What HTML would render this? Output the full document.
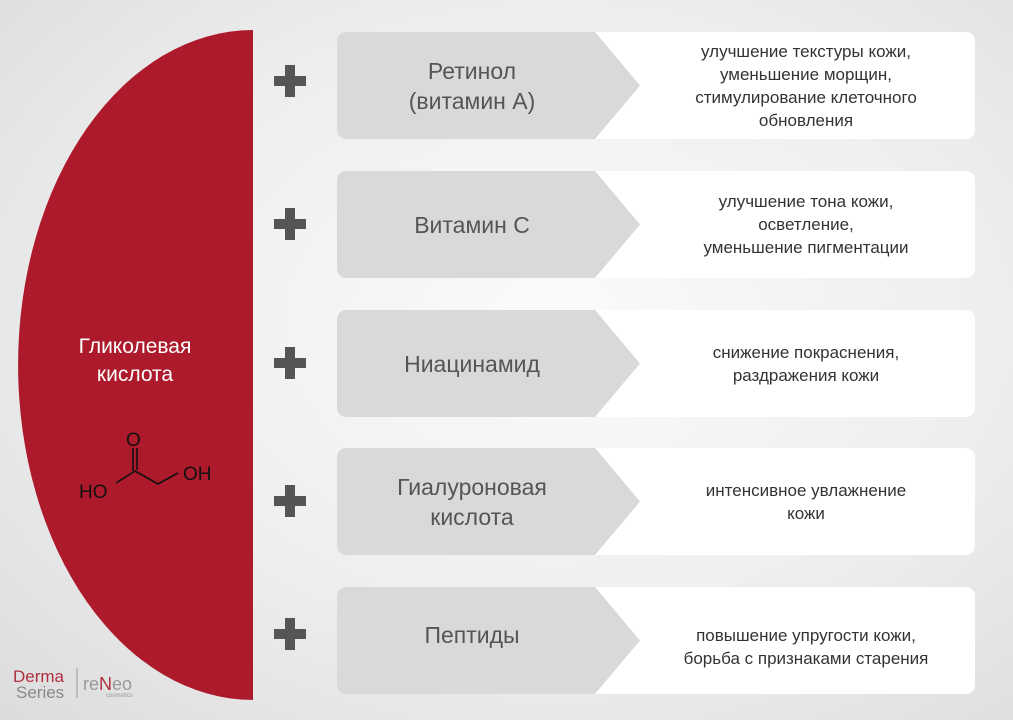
<!DOCTYPE html>
<html><head><meta charset="utf-8"><style>
body{margin:0;width:1013px;height:720px;overflow:hidden;font-family:"Liberation Sans",sans-serif;
background:radial-gradient(ellipse at 55% 45%,#fbfbfb 0%,#eeeeee 55%,#dcdcdc 100%);position:relative}
.row{position:absolute;left:337px;width:638px;height:107px;background:#fff;border-radius:9px;overflow:hidden}
.row svg{position:absolute;left:0;top:0}
.name{position:absolute;left:0;width:270px;top:0;height:107px;display:flex;align-items:center;justify-content:center;text-align:center;font-size:23px;color:#555;line-height:30px}
.desc{position:absolute;left:300px;right:0;top:0;height:107px;display:flex;align-items:center;justify-content:center;text-align:center;font-size:17px;color:#333;line-height:23px}
.plus{position:absolute;left:274px;width:32px;height:32px}
.plus:before{content:"";position:absolute;left:11px;top:0;width:10px;height:32px;background:#555}
.plus:after{content:"";position:absolute;left:0;top:11px;width:32px;height:10px;background:#555}
</style></head><body>
<svg width="1013" height="720" style="position:absolute;left:0;top:0">
<path d="M253 30 A235 335 0 0 0 253 700 Z" fill="#ad1a2c"/>
<g stroke="#111" stroke-width="1.6" fill="none">
<line x1="116" y1="483" x2="135" y2="471"/><line x1="135" y1="471" x2="158" y2="484"/><line x1="158" y1="484" x2="178" y2="473"/>
<line x1="133" y1="448" x2="133" y2="471"/><line x1="137" y1="448" x2="137" y2="470"/>
</g>
<g font-family="Liberation Sans" font-size="19" fill="#111">
<text x="126" y="446">O</text><text x="79" y="498">HO</text><text x="183" y="480">OH</text>
</g>
<text x="13" y="682" font-family="Liberation Sans" font-size="17" fill="#b0303f">Derma</text>
<text x="16" y="698" font-family="Liberation Sans" font-size="17" fill="#888">Series</text>
<line x1="77" y1="668" x2="77" y2="698" stroke="#999"/>
<text x="83" y="690" font-family="Liberation Sans" font-size="18" fill="#999">re<tspan fill="#b0303f">N</tspan>eo</text>
<text x="106" y="697" font-family="Liberation Sans" font-size="6" fill="#999">cosmetics</text>
</svg>
<div style="position:absolute;left:60px;top:333px;width:150px;text-align:center;color:#fff;font-size:21px;line-height:28px">Гликолевая<br>кислота</div>

<div class="plus" style="top:65px"></div>
<div class="row" style="top:32px"><svg width="320" height="107"><path d="M0 0H258L303 53.5L258 107H0Z" fill="#d9d9d9"/></svg><div class="name">Ретинол<br>(витамин А)</div><div class="desc">улучшение текстуры кожи,<br>уменьшение морщин,<br>стимулирование клеточного<br>обновления</div></div>

<div class="plus" style="top:208px"></div>
<div class="row" style="top:171px"><svg width="320" height="107"><path d="M0 0H258L303 53.5L258 107H0Z" fill="#d9d9d9"/></svg><div class="name">Витамин С</div><div class="desc">улучшение тона кожи,<br>осветление,<br>уменьшение пигментации</div></div>

<div class="plus" style="top:347px"></div>
<div class="row" style="top:310px"><svg width="320" height="107"><path d="M0 0H258L303 53.5L258 107H0Z" fill="#d9d9d9"/></svg><div class="name">Ниацинамид</div><div class="desc">снижение покраснения,<br>раздражения кожи</div></div>

<div class="plus" style="top:485px"></div>
<div class="row" style="top:448px"><svg width="320" height="107"><path d="M0 0H258L303 53.5L258 107H0Z" fill="#d9d9d9"/></svg><div class="name">Гиалуроновая<br>кислота</div><div class="desc">интенсивное увлажнение<br>кожи</div></div>

<div class="plus" style="top:618px"></div>
<div class="row" style="top:587px"><svg width="320" height="107"><path d="M0 0H258L303 53.5L258 107H0Z" fill="#d9d9d9"/></svg><div class="name" style="height:95px">Пептиды</div><div class="desc" style="top:6px">повышение упругости кожи,<br>борьба с признаками старения</div></div>
</body></html>
